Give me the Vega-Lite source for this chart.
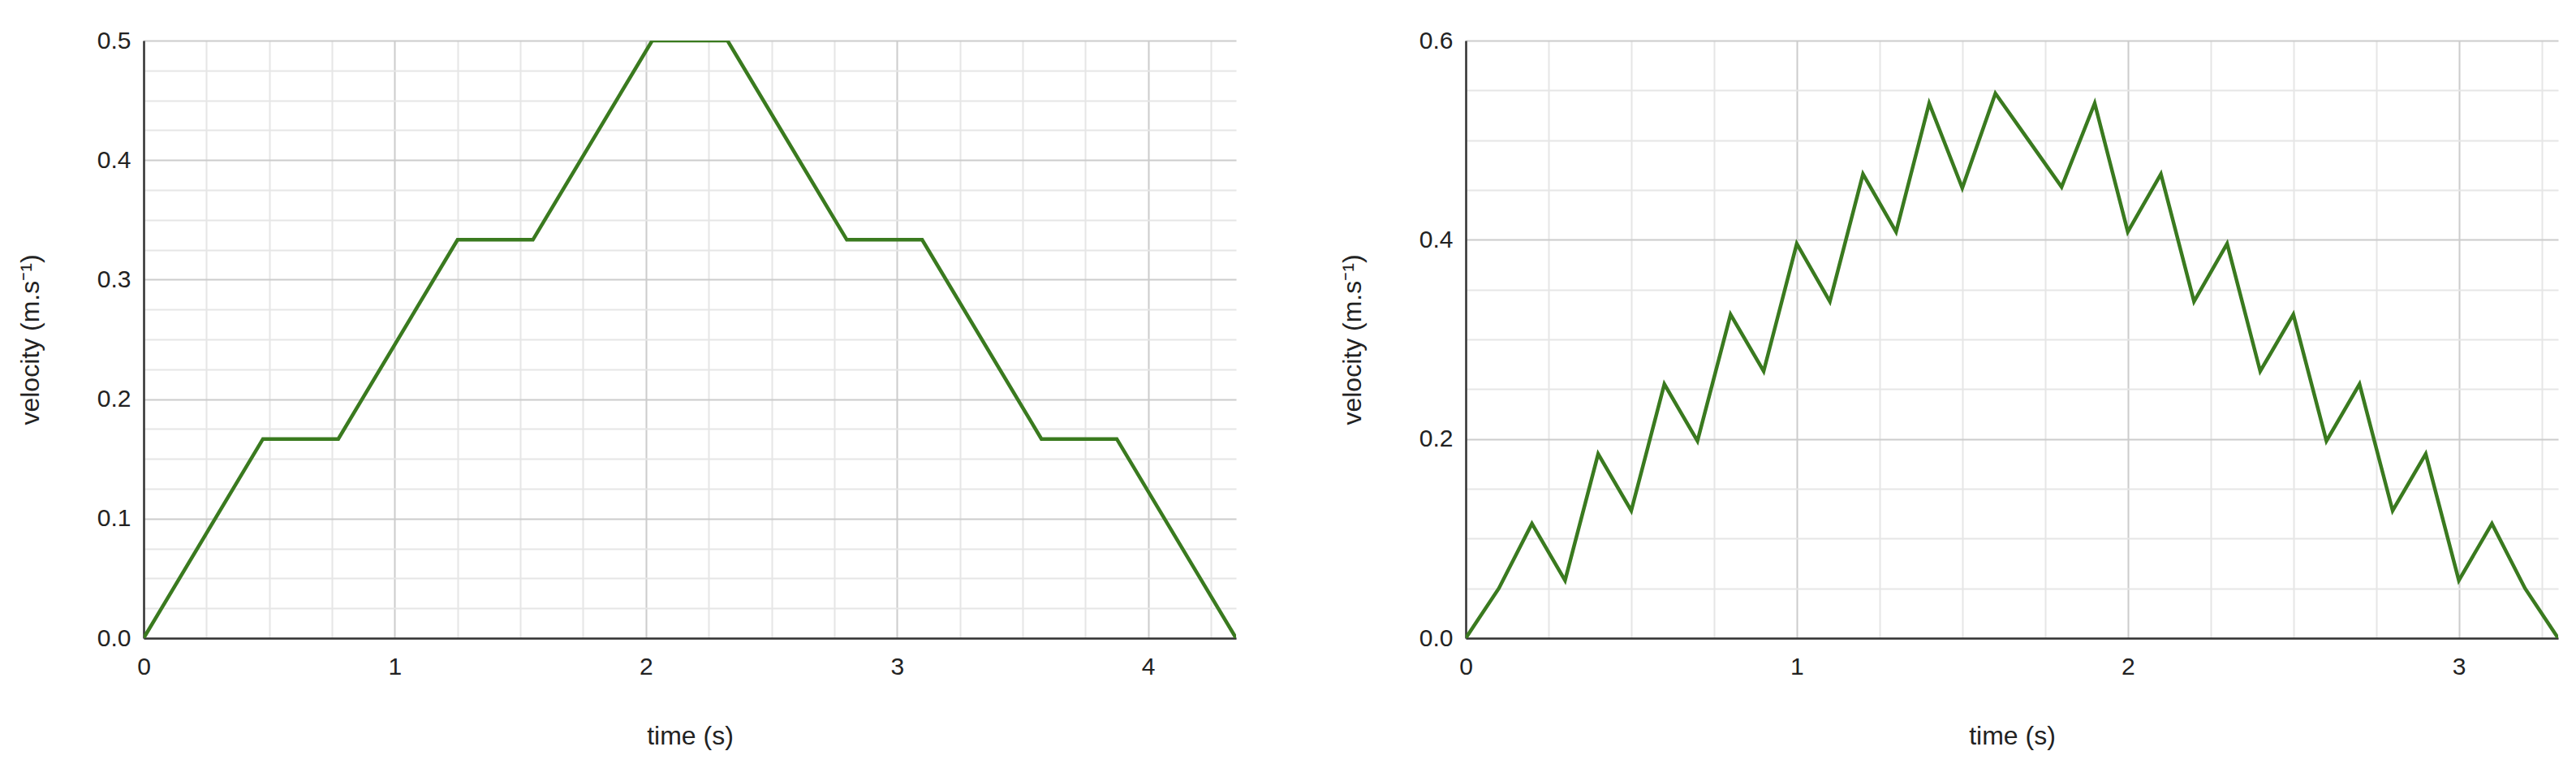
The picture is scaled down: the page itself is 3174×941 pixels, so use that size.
{
  "$schema": "https://vega.github.io/schema/vega-lite/v6.json",
  "padding": {"left": 21, "top": 35, "right": 5, "bottom": 5},
  "background": "white",
  "spacing": 127,
  "datasets": {
    "a": [
      {"t": 0, "v": 0},
      {"t": 0.475, "v": 0.16667},
      {"t": 0.775, "v": 0.16667},
      {"t": 1.25, "v": 0.33333},
      {"t": 1.55, "v": 0.33333},
      {"t": 2.025, "v": 0.5},
      {"t": 2.325, "v": 0.5},
      {"t": 2.8, "v": 0.33333},
      {"t": 3.1, "v": 0.33333},
      {"t": 3.575, "v": 0.16667},
      {"t": 3.875, "v": 0.16667},
      {"t": 4.35, "v": 0}
    ],
    "b": [
      {"t": 0, "v": 0},
      {"t": 0.1, "v": 0.05},
      {"t": 0.2, "v": 0.115},
      {"t": 0.3, "v": 0.058},
      {"t": 0.4, "v": 0.185},
      {"t": 0.5, "v": 0.128},
      {"t": 0.6, "v": 0.255},
      {"t": 0.7, "v": 0.198},
      {"t": 0.8, "v": 0.325},
      {"t": 0.9, "v": 0.268},
      {"t": 1.0, "v": 0.396},
      {"t": 1.1, "v": 0.338},
      {"t": 1.2, "v": 0.466},
      {"t": 1.3, "v": 0.408},
      {"t": 1.4, "v": 0.537},
      {"t": 1.5, "v": 0.452},
      {"t": 1.6, "v": 0.547},
      {"t": 1.7, "v": 0.5},
      {"t": 1.8, "v": 0.453},
      {"t": 1.9, "v": 0.537},
      {"t": 2.0, "v": 0.408},
      {"t": 2.1, "v": 0.466},
      {"t": 2.2, "v": 0.338},
      {"t": 2.3, "v": 0.396},
      {"t": 2.4, "v": 0.268},
      {"t": 2.5, "v": 0.325},
      {"t": 2.6, "v": 0.198},
      {"t": 2.7, "v": 0.255},
      {"t": 2.8, "v": 0.128},
      {"t": 2.9, "v": 0.185},
      {"t": 3.0, "v": 0.058},
      {"t": 3.1, "v": 0.115},
      {"t": 3.2, "v": 0.05},
      {"t": 3.3, "v": 0}
    ]
  },
  "hconcat": [
    {
      "width": 1346,
      "height": 736,
      "data": {"name": "a"},
      "mark": {"type": "line", "color": "#3a7a1f", "strokeWidth": 4.5, "clip": true},
      "encoding": {
        "x": {
          "field": "t", "type": "quantitative", "title": "time (s)",
          "scale": {"domain": [0, 4.35], "nice": false, "zero": true},
          "axis": {
            "values": [0,0.25,0.5,0.75,1,1.25,1.5,1.75,2,2.25,2.5,2.75,3,3.25,3.5,3.75,4,4.25],
            "labelExpr": "abs(datum.value - round(datum.value)) < 1e-6 ? format(datum.value, 'd') : ''",
            "gridColor": {"condition": {"test": "abs(datum.value - round(datum.value)) < 1e-6", "value": "#cccccc"}, "value": "#e6e6e6"}
          }
        },
        "y": {
          "field": "v", "type": "quantitative", "title": "velocity (m.s⁻¹)",
          "scale": {"domain": [0, 0.5], "nice": false},
          "axis": {
            "values": [0,0.025,0.05,0.075,0.1,0.125,0.15,0.175,0.2,0.225,0.25,0.275,0.3,0.325,0.35,0.375,0.4,0.425,0.45,0.475,0.5],
            "labelExpr": "abs(datum.value*10 - round(datum.value*10)) < 1e-6 ? format(datum.value, '.1f') : ''",
            "gridColor": {"condition": {"test": "abs(datum.value*10 - round(datum.value*10)) < 1e-6", "value": "#cccccc"}, "value": "#e6e6e6"}
          }
        }
      }
    },
    {
      "width": 1346,
      "height": 736,
      "data": {"name": "b"},
      "mark": {"type": "line", "color": "#3a7a1f", "strokeWidth": 4.5, "clip": true},
      "encoding": {
        "x": {
          "field": "t", "type": "quantitative", "title": "time (s)",
          "scale": {"domain": [0, 3.3], "nice": false, "zero": true},
          "axis": {
            "values": [0,0.25,0.5,0.75,1,1.25,1.5,1.75,2,2.25,2.5,2.75,3,3.25],
            "labelExpr": "abs(datum.value - round(datum.value)) < 1e-6 ? format(datum.value, 'd') : ''",
            "gridColor": {"condition": {"test": "abs(datum.value - round(datum.value)) < 1e-6", "value": "#cccccc"}, "value": "#e6e6e6"}
          }
        },
        "y": {
          "field": "v", "type": "quantitative", "title": "velocity (m.s⁻¹)",
          "scale": {"domain": [0, 0.6], "nice": false},
          "axis": {
            "values": [0,0.05,0.1,0.15,0.2,0.25,0.3,0.35,0.4,0.45,0.5,0.55,0.6],
            "labelExpr": "abs(datum.value*5 - round(datum.value*5)) < 1e-6 ? format(datum.value, '.1f') : ''",
            "gridColor": {"condition": {"test": "abs(datum.value*5 - round(datum.value*5)) < 1e-6", "value": "#cccccc"}, "value": "#e6e6e6"}
          }
        }
      }
    }
  ],
  "config": {
    "view": {"stroke": null},
    "font": "Liberation Sans",
    "axis": {
      "labelFont": "Liberation Sans",
      "titleFont": "Liberation Sans",
      "labelFontSize": 30,
      "titleFontSize": 32,
      "titleFontWeight": "normal",
      "labelColor": "#222222",
      "titleColor": "#222222",
      "ticks": false,
      "domainColor": "#333333",
      "domainWidth": 2.5,
      "gridWidth": 2,
      "labelOverlap": false,
      "labelBound": false,
      "labelFlush": false
    },
    "axisX": {"labelPadding": 20, "titlePadding": 55},
    "axisY": {"labelPadding": 16, "titlePadding": 65}
  }
}
